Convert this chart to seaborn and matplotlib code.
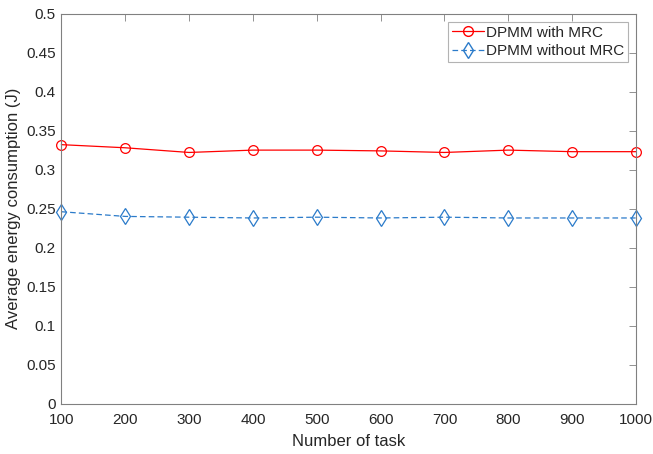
import numpy as np
import pandas as pd
import matplotlib
matplotlib.use("Agg")
import matplotlib.pyplot as plt
from matplotlib.lines import Line2D
import seaborn as sns

# Data
tasks = [100, 200, 300, 400, 500, 600, 700, 800, 900, 1000]
with_mrc = [0.332, 0.328, 0.322, 0.325, 0.325, 0.324, 0.322, 0.325, 0.323, 0.323]
without_mrc = [0.246, 0.240, 0.239, 0.238, 0.239, 0.238, 0.239, 0.238, 0.238, 0.238]
series_names = ["DPMM with MRC", "DPMM without MRC"]
colors = ["#ff0000", "#2b7bca"]
y_ticks = [0, 0.05, 0.1, 0.15, 0.2, 0.25, 0.3, 0.35, 0.4, 0.45, 0.5]
y_labels = ["0", "0.05", "0.1", "0.15", "0.2", "0.25", "0.3", "0.35", "0.4", "0.45", "0.5"]

df = pd.DataFrame({
    "task": tasks * 2,
    "energy": with_mrc + without_mrc,
    "series": [series_names[0]] * len(tasks) + [series_names[1]] * len(tasks),
})

sns.set_style("white")
plt.rcParams["font.family"] = ["Liberation Sans", "DejaVu Sans"]

fig = plt.figure(figsize=(6.53, 4.54), dpi=100)
ax = fig.add_axes([0.094, 0.111, 0.880, 0.859])

sns.lineplot(
    data=df, x="task", y="energy", hue="series", style="series",
    palette=colors, markers=["o", "d"], dashes=[(None, None), (4.5, 2.5)],
    markersize=7, linewidth=0.9, legend=False, ax=ax,
)
for line, c in zip(ax.lines[:2], colors):
    line.set_markeredgecolor(c)
    line.set_markerfacecolor("none")
    line.set_markeredgewidth(0.9)
    line.set_clip_on(False)
ax.lines[1].set_markersize(8)

ax.set_xlim(100, 1000)
ax.set_ylim(0, 0.5)
ax.set_xticks(tasks)
ax.set_yticks(y_ticks)
ax.set_yticklabels(y_labels)
ax.set_xlabel("Number of task", fontsize=12, color="#262626", labelpad=5)
ax.set_ylabel("Average energy consumption (J)", fontsize=12, color="#262626", labelpad=4)
ax.tick_params(direction="in", top=True, right=True, length=5, width=0.6,
               color="#808080", labelsize=11, labelcolor="#262626", pad=4)
ax.tick_params(axis="x", pad=7)
for s in ax.spines.values():
    s.set_color("#808080")
    s.set_linewidth(0.8)

handles = [
    Line2D([], [], color=colors[0], marker="o", markersize=7, markerfacecolor="none",
           markeredgecolor=colors[0], linewidth=0.9),
    Line2D([], [], color=colors[1], marker="d", markersize=8, markerfacecolor="none",
           markeredgecolor=colors[1], linewidth=0.9, linestyle=(0, (4.5, 2.5))),
]
leg = ax.legend(handles, series_names, loc="upper right", fontsize=11, frameon=True,
                fancybox=False, edgecolor="#a0a0a0", handlelength=2.1,
                borderpad=0.25, labelspacing=0.3, handletextpad=0.15,
                borderaxespad=0, bbox_to_anchor=(0.986, 0.979))
leg.get_frame().set_linewidth(0.8)

fig.savefig("out.png", dpi=100)
